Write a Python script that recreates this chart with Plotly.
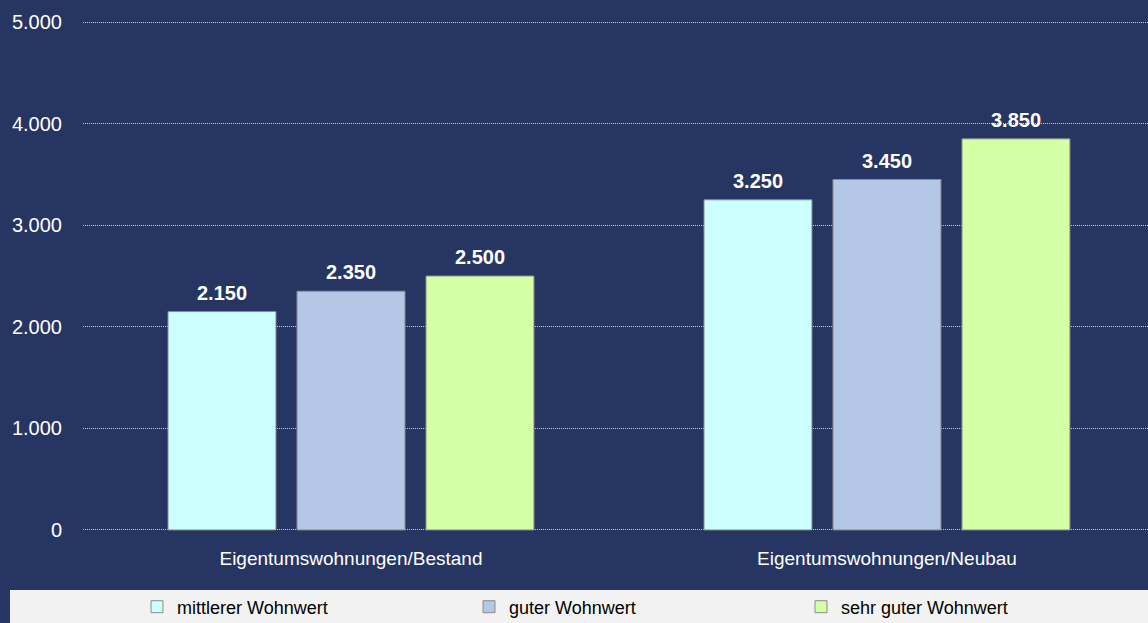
import plotly.graph_objects as go

categories = ["Eigentumswohnungen/Bestand", "Eigentumswohnungen/Neubau"]
series_names = ["mittlerer Wohnwert", "guter Wohnwert", "sehr guter Wohnwert"]
mittlerer = [2150, 3250]
guter = [2350, 3450]
sehr_guter = [2500, 3850]
tick_vals = [0, 1000, 2000, 3000, 4000, 5000]

colors = ["#CCFFFF", "#B4C7E6", "#D4FFA4"]
values = [mittlerer, guter, sehr_guter]

FONT = "Liberation Sans, Arial, sans-serif"
W, H = 1148, 623
ml, mr, mt, mb = 83, 0, 19, 90
pw, ph = W - ml - mr, H - mt - mb
x_range = [-0.5, 1.487]
y_range = [-30, 5030]
bargap, bargroupgap = 0.278, 0.163
slot_px = pw / (x_range[1] - x_range[0]) * (1 - bargap) / len(series_names)
y0_px = H - mb  # paper y=0 in pixels from top

fig = go.Figure()
for i, (name, vals, col) in enumerate(zip(series_names, values, colors)):
    fig.add_trace(go.Bar(
        x=categories, y=vals, name=name,
        marker=dict(color=col, line=dict(color="#8C8C8C", width=1)),
        textposition="none",
    ))
    for cat, v in zip(categories, vals):
        fig.add_annotation(
            x=cat, y=v, xref="x", yref="y",
            text=f"{v:,}".replace(",", "."),
            showarrow=False, yanchor="bottom",
            xshift=(i - 1) * slot_px, yshift=6,
            font=dict(family=FONT, size=20, color="white", weight="bold"),
        )

fig.update_layout(
    width=W, height=H,
    margin=dict(l=ml, r=mr, t=mt, b=mb, autoexpand=False),
    paper_bgcolor="#273562", plot_bgcolor="#273562",
    separators=",.",
    barmode="group", bargap=bargap, bargroupgap=bargroupgap,
    font=dict(family=FONT, size=16, color="white"),
    showlegend=True,
    legend=dict(
        orientation="h", x=(137 - ml) / pw, xanchor="left",
        y=(y0_px - 607) / ph, yanchor="middle",
        bgcolor="rgba(0,0,0,0)", borderwidth=0,
        font=dict(family=FONT, size=18, color="#000000"),
        entrywidth=287, entrywidthmode="pixels",
        traceorder="normal",
    ),
    shapes=[dict(type="rect", xref="paper", yref="paper",
                 x0=(10 - ml) / pw, x1=1.0,
                 y0=(y0_px - 623) / ph, y1=(y0_px - 590) / ph,
                 fillcolor="#F2F2F2", line=dict(width=0), layer="below")],
)
fig.update_xaxes(
    range=x_range,
    showgrid=False, zeroline=False, showline=False, ticks="",
    tickfont=dict(family=FONT, size=19, color="white"), ticklabelstandoff=12,
)
fig.update_yaxes(
    range=y_range, tickvals=tick_vals, tickformat=",d",
    showgrid=True, gridcolor="#C8CAD2", gridwidth=1, griddash="1px,1px",
    zeroline=False, showline=False, ticks="",
    tickfont=dict(family=FONT, size=20, color="white"), ticklabelstandoff=20,
)

fig.write_html("out.html", config={"displayModeBar": False},
               post_script="document.body.style.margin='0px';")
